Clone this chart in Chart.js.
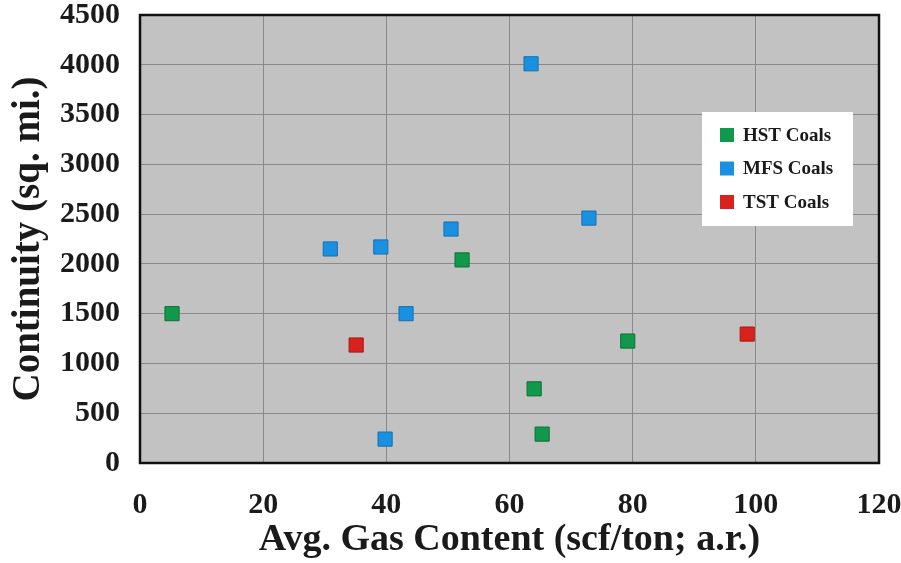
<!DOCTYPE html>
<html>
<head>
  <title>Continuity vs Gas Content</title>
  <script src="https://cdn.jsdelivr.net/npm/chart.js@4.4.1/dist/chart.umd.min.js"></script>
  <style>
    html, body { margin: 0; padding: 0; background: #fff; }
    .chart-container { width: 901px; height: 563px; }
  </style>
</head>
<body>
  <div class="chart-container">
    <canvas id="coalChart" width="901" height="563"></canvas>
  </div>
  <script>
    // data
    const seriesNames = ['HST Coals', 'MFS Coals', 'TST Coals'];
    const hstGas = [5.2, 52.3, 79.2, 64.0, 65.3];
    const hstArea = [1500, 2040, 1225, 745, 290];
    const mfsGas = [63.5, 30.9, 39.1, 50.5, 72.9, 43.2, 39.8];
    const mfsArea = [4010, 2150, 2170, 2350, 2460, 1500, 240];
    const tstGas = [35.1, 98.6];
    const tstArea = [1185, 1295];
    const xTicks = [0, 20, 40, 60, 80, 100, 120];
    const yTicks = [0, 500, 1000, 1500, 2000, 2500, 3000, 3500, 4000, 4500];

    const colors = ['#10994a', '#1a90e0', '#d9221c'];
    const borders = ['#0b7036', '#1270b0', '#a81812'];

    const toPoints = (xs, ys) => xs.map((x, i) => ({ x: x, y: ys[i] }));

    const serif = '"Liberation Serif", "Times New Roman", serif';

    // gray plot background + black frame
    const plotFrame = {
      id: 'plotFrame',
      beforeDraw(chart) {
        const { ctx, chartArea: a } = chart;
        ctx.save();
        ctx.fillStyle = '#c2c2c2';
        ctx.fillRect(a.left, a.top, a.right - a.left, a.bottom - a.top);
        ctx.restore();
      },
      afterDraw(chart) {
        const { ctx, chartArea: a } = chart;
        ctx.save();
        ctx.strokeStyle = '#111';
        ctx.lineWidth = 2.5;
        ctx.strokeRect(a.left, a.top, a.right - a.left, a.bottom - a.top);
        ctx.restore();
      }
    };

    // legend box drawn inside the plot area
    const insideLegend = {
      id: 'insideLegend',
      afterDatasetsDraw(chart) {
        const { ctx } = chart;
        const bx = 702, by = 112, bw = 151, bh = 114;
        ctx.save();
        ctx.fillStyle = '#fff';
        ctx.fillRect(bx, by, bw, bh);
        ctx.font = 'bold 19px ' + serif;
        ctx.textBaseline = 'middle';
        chart.data.datasets.forEach((ds, i) => {
          const cy = by + 23 + i * 33.5;
          ctx.fillStyle = ds.backgroundColor;
          ctx.fillRect(bx + 18, cy - 7, 14, 14);
          ctx.fillStyle = '#1a1a1a';
          ctx.fillText(ds.label, bx + 41, cy + 1);
        });
        ctx.restore();
      }
    };

    const makeSet = (i, xs, ys) => ({
      label: seriesNames[i],
      data: toPoints(xs, ys),
      backgroundColor: colors[i],
      borderColor: borders[i],
      borderWidth: 1,
      pointStyle: 'rect',
      pointRadius: 10,
      pointHoverRadius: 10,
    });

    const ctx = document.getElementById('coalChart').getContext('2d');
    new Chart(ctx, {
      type: 'scatter',
      data: {
        datasets: [
          makeSet(0, hstGas, hstArea),
          makeSet(1, mfsGas, mfsArea),
          makeSet(2, tstGas, tstArea),
        ],
      },
      options: {
        responsive: false,
        animation: false,
        layout: { padding: 0 },
        plugins: {
          legend: { display: false },
          tooltip: { enabled: false },
        },
        scales: {
          x: {
            type: 'linear',
            min: 0,
            max: 120,
            afterBuildTicks: (s) => { s.ticks = xTicks.map(v => ({ value: v })); },
            afterFit: (s) => { s.height = 100; s.paddingRight = 22; s.paddingLeft = 0; },
            grid: { color: '#8a8a8a', lineWidth: 1, drawTicks: false },
            border: { display: false },
            ticks: {
              color: '#1a1a1a',
              padding: 24,
              callback: (v) => String(v),
              font: { family: serif, size: 30, weight: 'bold' },
            },
            title: {
              display: true,
              text: 'Avg. Gas Content (scf/ton; a.r.)',
              color: '#1a1a1a',
              padding: { top: 0, bottom: 0 },
              font: { family: serif, size: 38, weight: 'bold' },
            },
          },
          y: {
            type: 'linear',
            min: 0,
            max: 4500,
            afterBuildTicks: (s) => { s.ticks = yTicks.map(v => ({ value: v })); },
            afterFit: (s) => { s.width = 140; s.paddingTop = 15; s.paddingBottom = 0; },
            grid: { color: '#8a8a8a', lineWidth: 1, drawTicks: false },
            border: { display: false },
            ticks: {
              color: '#1a1a1a',
              padding: 20,
              callback: (v) => String(v),
              font: { family: serif, size: 30, weight: 'bold' },
            },
            title: {
              display: true,
              text: 'Continuity (sq. mi.)',
              color: '#1a1a1a',
              padding: { top: 6, bottom: 0 },
              font: { family: serif, size: 39, weight: 'bold' },
            },
          },
        },
      },
      plugins: [plotFrame, insideLegend],
    });
  </script>
</body>
</html>
